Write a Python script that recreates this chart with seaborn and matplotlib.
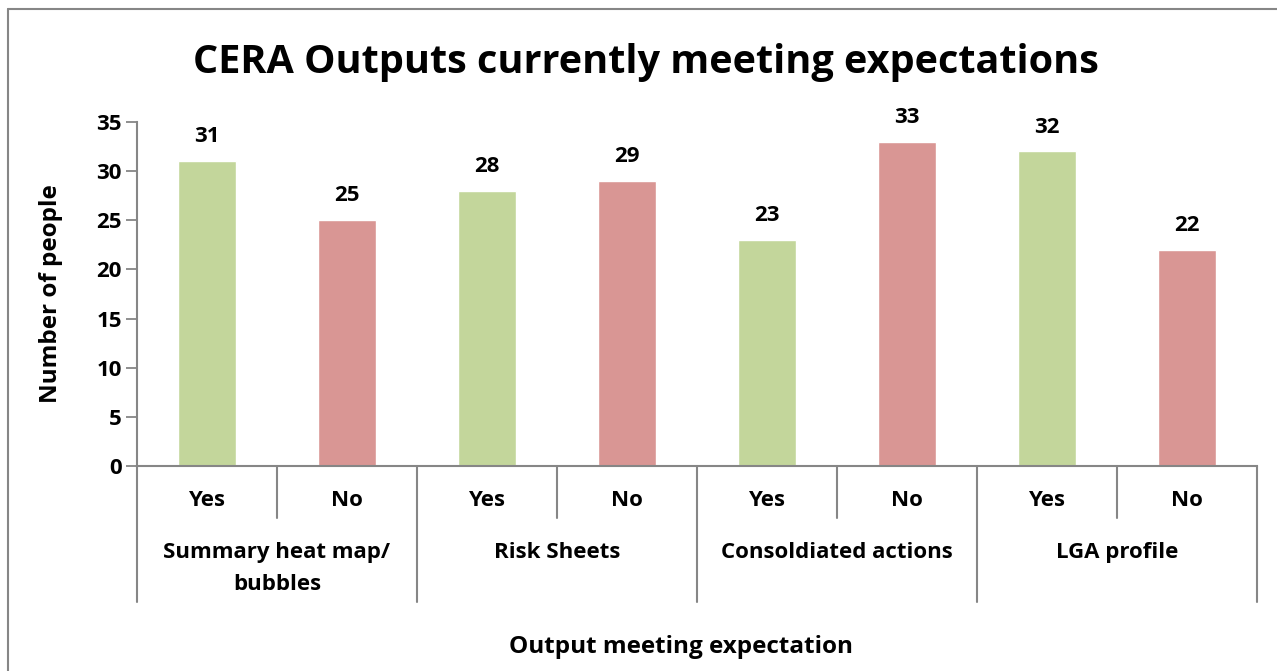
import pandas as pd
import matplotlib.pyplot as plt
import seaborn as sns
from matplotlib.lines import Line2D
import matplotlib.transforms as mtransforms

groups = ['Summary heat map/\nbubbles', 'Risk Sheets', 'Consoldiated actions', 'LGA profile']
answers = ['Yes', 'No']
yes_counts = [31, 28, 23, 32]
no_counts = [25, 29, 33, 22]

records = []
for g, y, n in zip(groups, yes_counts, no_counts):
    records.append({'key': g + '|Yes', 'group': g, 'answer': 'Yes', 'count': y})
    records.append({'key': g + '|No', 'group': g, 'answer': 'No', 'count': n})
df = pd.DataFrame(records)

sns.set_style('white')
plt.rcParams['font.family'] = ['Open Sans', 'DejaVu Sans']
plt.rcParams['font.weight'] = 'bold'
plt.rcParams['text.color'] = 'black'
plt.rcParams['ytick.labelcolor'] = 'black'
plt.rcParams['axes.labelcolor'] = 'black'

FS = 16
FS_TITLE_AX = 17.5

W, H = 1277, 671
fig = plt.figure(figsize=(W / 100, H / 100), dpi=100)
ax = fig.add_axes([137 / W, 1 - 466 / H, (1257 - 137) / W, (466 - 122) / H])

palette = {'Yes': '#C3D69B', 'No': '#D99694'}
sns.barplot(data=df, x='key', y='count', hue='answer', palette=palette,
            order=list(df['key']), dodge=False, width=0.41, ax=ax,
            legend=False, saturation=1)

for cont in ax.containers:
    ax.bar_label(cont, fmt='%d', padding=10, fontsize=FS, fontweight='bold')

ax.set_ylim(0, 35)
ax.set_xlim(-0.5, len(df) - 0.5)
ax.set_yticks(range(0, 36, 5))
ax.tick_params(axis='y', labelsize=FS, length=8, width=1.3, color='#868686',
               direction='out', pad=3, left=True)
ax.tick_params(axis='x', length=0, labelbottom=False)
for s in ['top', 'right']:
    ax.spines[s].set_visible(False)
for s in ['left', 'bottom']:
    ax.spines[s].set_color('#868686')
    ax.spines[s].set_linewidth(1.5)
for lab in ax.get_yticklabels():
    lab.set_fontweight('bold')

ax.set_ylabel('Number of people', fontsize=FS_TITLE_AX, fontweight='bold', labelpad=24)
ax.set_xlabel('')

# multi-level category axis
px = 1 / (466 - 122)  # one pixel in axes units
trans = mtransforms.blended_transform_factory(ax.transData, ax.transAxes)
n = len(df)
for i in range(n + 1):
    xpos = i - 0.5
    bottom = 602 if i % 2 == 0 else 518
    ax.add_line(Line2D([xpos, xpos], [0, -(bottom - 466) * px], transform=trans,
                       color='#868686', lw=1.5, clip_on=False))
for i, a in enumerate(df['answer']):
    ax.text(i, -(500 - 466) * px, a, transform=trans, ha='center', va='center',
            fontsize=FS, fontweight='bold')
for j, g in enumerate(groups):
    ax.text(2 * j + 0.5, -(542 - 466) * px, g, transform=trans, ha='center', va='top',
            fontsize=FS, fontweight='bold', linespacing=1.7)

fig.text(681 / W, 1 - 647 / H, 'Output meeting expectation', ha='center', va='center',
         fontsize=FS_TITLE_AX, fontweight='bold')
fig.text(646 / W, 1 - 62 / H, 'CERA Outputs currently meeting expectations', ha='center',
         va='center', fontsize=28.5, fontweight='bold')

# chart frame
fig.add_artist(Line2D([8 / W, 8 / W], [0, 1 - 9 / H], transform=fig.transFigure,
                      color='#868686', lw=1.5))
fig.add_artist(Line2D([8 / W, 1], [1 - 9 / H, 1 - 9 / H], transform=fig.transFigure,
                      color='#868686', lw=1.5))

fig.savefig('out.png', dpi=100)
